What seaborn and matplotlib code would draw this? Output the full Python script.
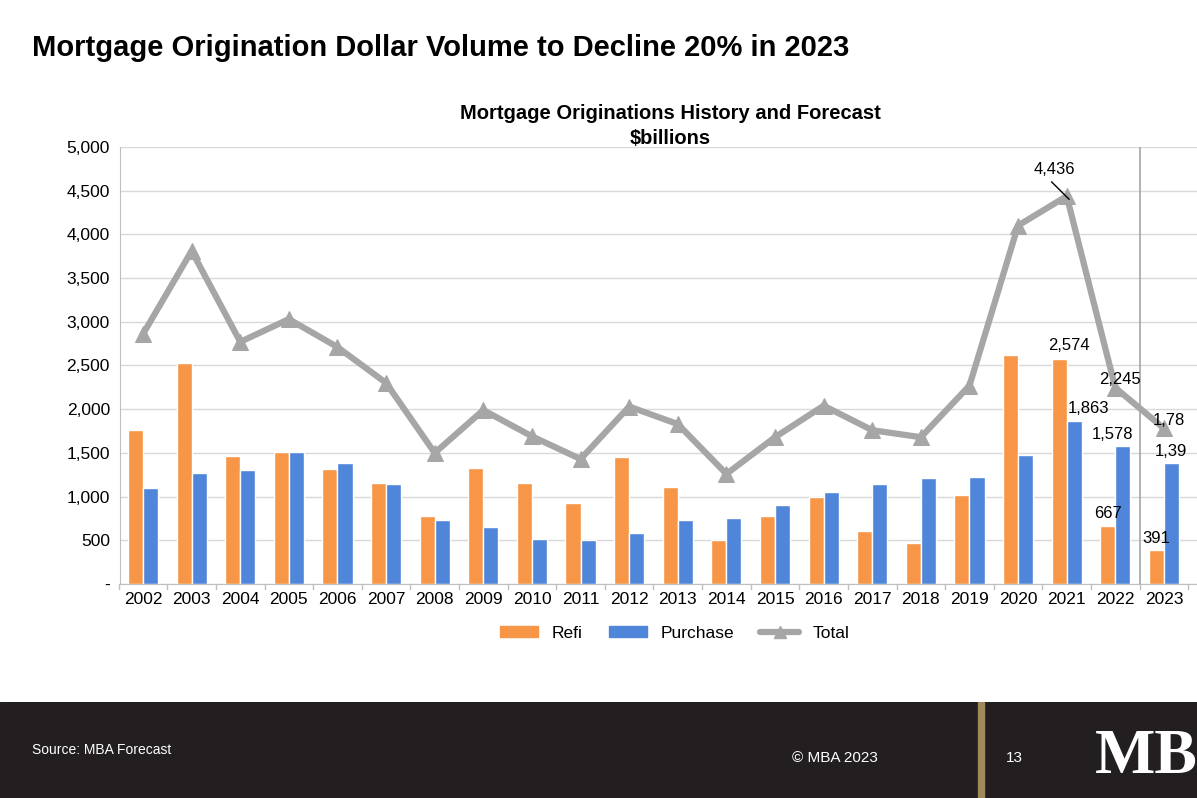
import numpy as np
import pandas as pd
import matplotlib.pyplot as plt
import seaborn as sns
from matplotlib.patches import Patch
from matplotlib.lines import Line2D

years = [str(y) for y in range(2002, 2024)]
refi = [1760, 2530, 1460, 1510, 1320, 1160, 780, 1330, 1160, 930, 1450,
        1110, 500, 780, 1000, 610, 470, 1020, 2620, 2574, 667, 391]
purchase = [1100, 1270, 1300, 1510, 1390, 1140, 730, 650, 520, 500, 580,
            730, 760, 900, 1050, 1140, 1210, 1220, 1480, 1863, 1578, 1390]
total = [2860, 3810, 2770, 3030, 2710, 2300, 1500, 1990, 1690, 1430, 2030,
         1830, 1260, 1680, 2040, 1760, 1680, 2270, 4100, 4436, 2245, 1780]

sns.set_style("white")
plt.rcParams['font.family'] = ['Liberation Sans', 'DejaVu Sans']
plt.rcParams['text.color'] = 'black'
plt.rcParams['xtick.color'] = 'black'
plt.rcParams['ytick.color'] = 'black'

df = pd.DataFrame({"year": years * 2,
                   "value": refi + purchase,
                   "series": ["Refi"] * len(years) + ["Purchase"] * len(years)})

fig = plt.figure(figsize=(11.97, 7.98), dpi=100)
fig.text(0.027, 0.94, "Mortgage Origination Dollar Volume to Decline 20% in 2023",
         fontsize=21, fontweight="bold", va="center")

ax = fig.add_axes([0.1, 0.268, 0.9, 0.548])
sns.barplot(data=df, x="year", y="value", hue="series", order=years,
            palette={"Refi": "#F79646", "Purchase": "#4F86D9"},
            width=0.62, saturation=1, ax=ax, legend=False)
x = np.arange(len(years))
sns.lineplot(x=x, y=total, color="#A6A6A6", lw=4.5, marker="^", markersize=11,
             markeredgecolor="#A6A6A6", ax=ax)

ax.set_xlim(-0.48, 21.68)
ax.set_ylim(0, 5000)
ax.set_yticks(range(0, 5001, 500))
ax.set_yticklabels(["-"] + [f"{v:,}" for v in range(500, 5001, 500)], fontsize=12.5)
ax.tick_params(axis="x", labelsize=12.5, length=0, pad=6)
ax.set_xlabel("")
ax.set_ylabel("")
ax.grid(axis="y", color="#D9D9D9", lw=1)
ax.set_axisbelow(True)
for s in ["top", "right"]:
    ax.spines[s].set_visible(False)
ax.spines["left"].set_color("#BFBFBF")
ax.spines["bottom"].set_color("#BFBFBF")
ax.axvline(20.5, color="#A6A6A6", lw=1.2)
for xi in np.arange(-0.5, 22, 1):
    ax.plot([xi, xi], [0, -60], color="#BFBFBF", lw=1, clip_on=False)

fig.text(0.56, 0.842, "Mortgage Originations History and Forecast\n$billions",
         fontsize=14.5, fontweight="bold", linespacing=1.35, ha="center",
         va="center")

# data labels
ax.annotate("4,436", xy=(19.05, 4400), xytext=(18.75, 4660), fontsize=12,
            ha="center", va="bottom",
            arrowprops=dict(arrowstyle="-", color="black", lw=1,
                            shrinkA=2, shrinkB=0, relpos=(0.3, 0)))
ax.text(19.05, 2640, "2,574", ha="center", va="bottom", fontsize=12)
ax.text(19.45, 1920, "1,863", ha="center", va="bottom", fontsize=12)
ax.text(20.1, 2250, "2,245", ha="center", va="bottom", fontsize=12)
ax.text(19.95, 1620, "1,578", ha="center", va="bottom", fontsize=12)
ax.text(19.85, 720, "667", ha="center", va="bottom", fontsize=12)
ax.text(20.85, 440, "391", ha="center", va="bottom", fontsize=12)
ax.text(21.1, 1790, "1,78", ha="center", va="bottom", fontsize=12)
ax.text(21.15, 1430, "1,39", ha="center", va="bottom", fontsize=12)

# legend
handles = [Patch(color="#F79646"), Patch(color="#4F86D9"),
           Line2D([], [], color="#A6A6A6", lw=4.5, marker="^", markersize=9)]
ax.legend(handles, ["Refi", "Purchase", "Total"], loc="upper center",
          bbox_to_anchor=(0.515, -0.06), ncol=3, frameon=False, fontsize=12.5,
          handlelength=2.2, handleheight=0.6, columnspacing=1.5)

# footer
foot = fig.add_axes([0, 0, 1, 0.12])
foot.set_xlim(0, 1)
foot.set_ylim(0, 1)
foot.axis("off")
foot.add_patch(plt.Rectangle((0, 0), 1, 1, color="#231F20"))
foot.add_patch(plt.Rectangle((0.817, 0), 0.005, 1, color="#A08A5A"))
foot.text(0.027, 0.5, "Source: MBA Forecast", color="white", fontsize=10, va="center")
foot.text(0.662, 0.42, "© MBA 2023", color="white", fontsize=11, va="center")
foot.text(0.84, 0.42, "13", color="white", fontsize=11, va="center")
foot.text(0.915, 0.42, "MBA", color="white", fontsize=46, va="center",
          family="Liberation Serif", fontweight="bold")

fig.savefig("out.png", dpi=100)
